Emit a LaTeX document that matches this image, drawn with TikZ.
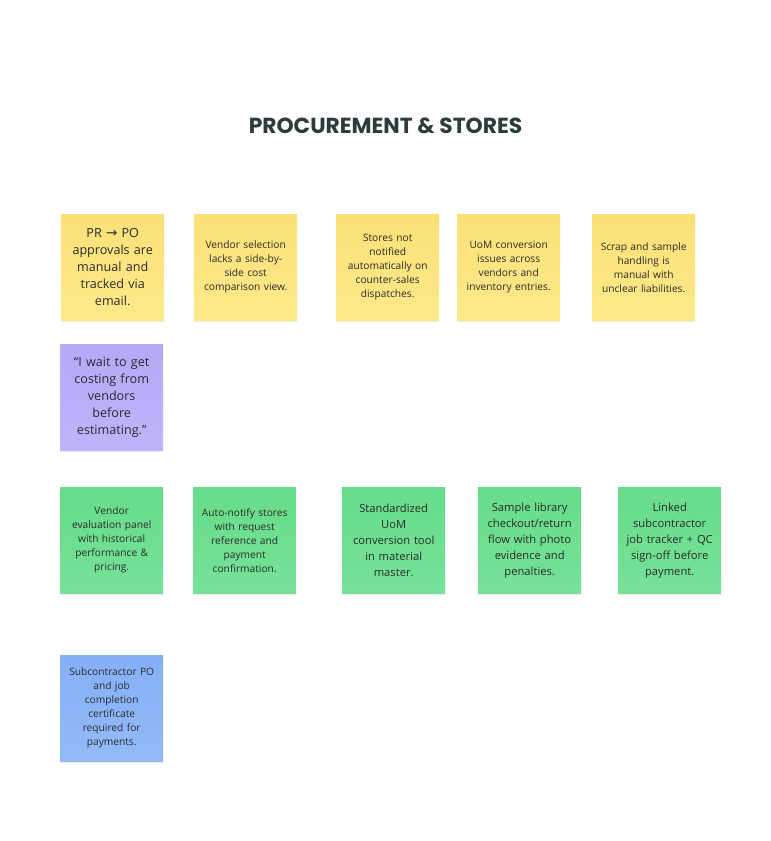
\documentclass[tikz,border=0pt]{standalone}
\usepackage{fontspec}
\setmainfont{Open Sans}
\newfontfamily\titlefont{Poppins}
\newfontfamily\symfont{DejaVu Sans}
\usetikzlibrary{shadows}
\definecolor{ytop}{HTML}{FBE077}
\definecolor{ybot}{HTML}{FDE98A}
\definecolor{gtop}{HTML}{67DC8A}
\definecolor{gbot}{HTML}{76E298}
\definecolor{ptop}{HTML}{B7A8F8}
\definecolor{pbot}{HTML}{C0B3FA}
\definecolor{btop}{HTML}{86B0F6}
\definecolor{bbot}{HTML}{93BAF8}
\definecolor{ink}{HTML}{2B2B2B}
\definecolor{titleink}{HTML}{2E3B3B}
\tikzset{
  note/.style={anchor=north west, minimum width=103pt, minimum height=106pt,
    inner sep=0pt, text width=92pt, align=center, text=ink,
    font=\fontsize{10.2}{14}\selectfont,
    drop shadow={shadow xshift=0pt, shadow yshift=-2pt, opacity=0.07, fill=black}},
  yellownote/.style={note, top color=ytop, bottom color=ybot},
  greennote/.style={note, top color=gtop, bottom color=gbot},
  purplenote/.style={note, top color=ptop, bottom color=pbot},
  bluenote/.style={note, top color=btop, bottom color=bbot},
  bignote/.style={font=\fontsize{12.6}{17}\selectfont}
}
\begin{document}
\begin{tikzpicture}[x=1pt,y=-1pt]
\useasboundingbox (0,0) rectangle (771,841);
\fill[white] (0,0) rectangle (771,841);
\node[text=titleink, font=\titlefont\bfseries\fontsize{21.8}{26}\selectfont] (title) at (385.5,126) {PROCUREMENT \& STORES};

\node[yellownote, bignote] (y1) at (61,214) {PR {\symfont\fontsize{13.5}{17}\selectfont →} PO\\approvals are\\manual and\\tracked via\\email.};
\node[yellownote] (y2) at (194,214) {Vendor selection\\lacks a side-by-\\side cost\\comparison view.};
\node[yellownote] (y3) at (336,214) {Stores not\\notified\\automatically on\\counter-sales\\dispatches.};
\node[yellownote] (y4) at (457,214) {UoM conversion\\issues across\\vendors and\\inventory entries.};
\node[yellownote] (y5) at (592,214) {Scrap and sample\\handling is\\manual with\\unclear liabilities.};

\node[purplenote, bignote] (p1) at (60,344) {“I wait to get\\costing from\\vendors\\before\\estimating.”};

\node[greennote] (g1) at (60,487) {Vendor\\evaluation panel\\with historical\\performance \&\\pricing.};
\node[greennote] (g2) at (193,487) {Auto-notify stores\\with request\\reference and\\payment\\confirmation.};
\node[greennote, font=\fontsize{11.2}{16}\selectfont] (g3) at (342,487) {Standardized\\UoM\\conversion tool\\in material\\master.};
\node[greennote, font=\fontsize{11.2}{16}\selectfont] (g4) at (478,487) {Sample library\\checkout/return\\flow with photo\\evidence and\\penalties.};
\node[greennote, font=\fontsize{11.2}{16}\selectfont] (g5) at (618,487) {Linked\\subcontractor\\job tracker + QC\\sign-off before\\payment.};

\node[bluenote] (b1) at (60,655) {Subcontractor PO\\and job\\completion\\certificate\\required for\\payments.};
\end{tikzpicture}
\end{document}
